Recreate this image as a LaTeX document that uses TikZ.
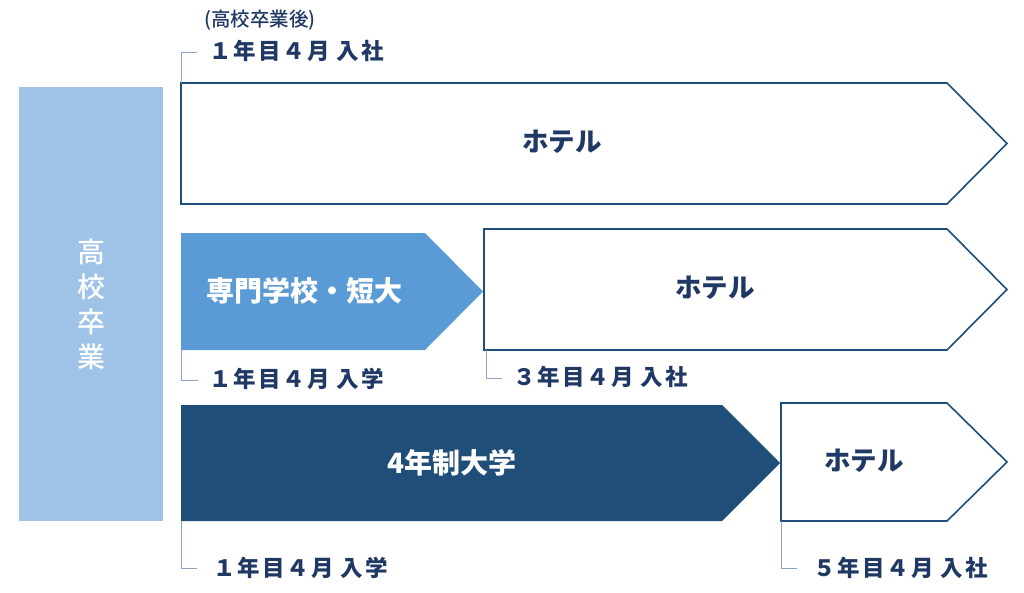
\documentclass[tikz,border=0pt]{standalone}
\usepackage{fontspec}
\newfontfamily\jp{Noto Sans CJK JP}
\newfontfamily\jpm{Noto Sans CJK JP Medium}
\definecolor{navy}{HTML}{1F4E79}
\definecolor{txt}{HTML}{203864}
\definecolor{midblue}{HTML}{5B9BD5}
\definecolor{paleblue}{HTML}{9FC3E6}
\definecolor{mark}{HTML}{8EA3BF}
\begin{document}
\begin{tikzpicture}[x=1pt,y=-1pt,
  hotel/.style={draw=navy,line width=1.6pt,fill=white,line join=miter},
  hoteltext/.style={font=\jp\bfseries\fontsize{26.5}{26}\selectfont,text=txt},
  intext/.style={font=\jp\bfseries\fontsize{28}{28}\selectfont,text=white},
  datelabel/.style={font=\jp\bfseries\fontsize{22.5}{22}\selectfont\addfontfeature{LetterSpace=9},text=txt,anchor=west,inner sep=0pt},
  marker/.style={draw=mark,line width=1pt}]
\useasboundingbox (0,0) rectangle (1024,592);
% left column
\fill[paleblue] (19,87) rectangle (163,521);
\node[font=\jpm\fontsize{28}{35}\selectfont,text=white,align=center,inner sep=0pt] (hs) at (91,304) {高\\校\\卒\\業};
% row 1
\draw[hotel] (181,83) -- (947,83) -- (1007,143.5) -- (947,204) -- (181,204) -- cycle;
\node[hoteltext] (h1) at (562,142) {ホテル};
\coordinate (m1a) at (181,83);
\coordinate (m1b) at (181,52);
\coordinate (m1c) at (197,52);
\draw[marker] (m1a) -- (m1b) -- (m1c);
\node[datelabel] (l1) at (209,51) {１年目４月 入社};
\node[font=\jpm\fontsize{19.5}{20}\selectfont,text=txt,anchor=west,inner sep=0pt] (l0) at (204,20) {(高校卒業後)};
% row 2
\fill[midblue] (181,233) -- (425,233) -- (483,291.5) -- (425,350) -- (181,350) -- cycle;
\node[intext] (s2) at (304,291) {専門学校・短大};
\draw[hotel] (484,229) -- (947,229) -- (1007,289.5) -- (947,350) -- (484,350) -- cycle;
\node[hoteltext] (h2) at (715,288) {ホテル};
\coordinate (m2a) at (181,350);
\coordinate (m2b) at (181,380);
\coordinate (m2c) at (198,380);
\draw[marker] (m2a) -- (m2b) -- (m2c);
\node[datelabel] (l2) at (209,379) {１年目４月 入学};
\coordinate (m3a) at (486,350);
\coordinate (m3b) at (486,378);
\coordinate (m3c) at (502,378);
\draw[marker] (m3a) -- (m3b) -- (m3c);
\node[datelabel] (l3) at (513,377) {３年目４月 入社};
% row 3
\fill[navy] (181,405) -- (722,405) -- (780,463) -- (722,521) -- (181,521) -- cycle;
\node[intext] (s3) at (452,463) {4年制大学};
\draw[hotel] (781,403) -- (947,403) -- (1007,462) -- (947,521) -- (781,521) -- cycle;
\node[hoteltext] (h3) at (864,461) {ホテル};
\coordinate (m4a) at (181,521);
\coordinate (m4b) at (181,568);
\coordinate (m4c) at (197,568);
\draw[marker] (m4a) -- (m4b) -- (m4c);
\node[datelabel] (l4) at (213,568) {１年目４月 入学};
\coordinate (m5a) at (781,521);
\coordinate (m5b) at (781,568);
\coordinate (m5c) at (797,568);
\draw[marker] (m5a) -- (m5b) -- (m5c);
\node[datelabel] (l5) at (813,568) {５年目４月 入社};
\end{tikzpicture}
\end{document}
